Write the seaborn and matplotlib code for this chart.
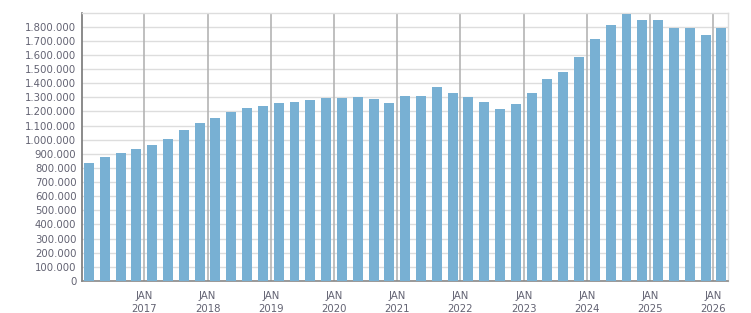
import matplotlib
matplotlib.use("Agg")
import matplotlib.pyplot as plt
import seaborn as sns
import pandas as pd
from matplotlib.ticker import FuncFormatter, FixedLocator

quarters = [f"{y} Q{q}" for y in range(2016, 2026) for q in range(1, 5)] + ["2026 Q1"]
values = [835000, 880000, 906000, 934000, 962000, 1005000, 1069000, 1118000,
          1154000, 1196000, 1224000, 1238000, 1260000, 1267000, 1281000, 1295000,
          1295000, 1302000, 1288000, 1260000, 1309000, 1309000, 1373000, 1330000,
          1302000, 1267000, 1217000, 1253000, 1330000, 1430000, 1479000, 1585000,
          1713000, 1812000, 1890000, 1847000, 1847000, 1790000, 1790000, 1741000,
          1790000]
year_labels = ["JAN\n2017", "JAN\n2018", "JAN\n2019", "JAN\n2020", "JAN\n2021",
               "JAN\n2022", "JAN\n2023", "JAN\n2024", "JAN\n2025", "JAN\n2026"]

df = pd.DataFrame({"quarter": quarters, "value": values})

sns.set_style("white")
plt.rcParams["font.family"] = ["DejaVu Sans"]

fig = plt.figure(figsize=(7.51, 3.13), dpi=100)
ax = fig.add_axes([82/751, (313-281)/313, (728-82)/751, (281-13.3)/313])

sns.barplot(data=df, x="quarter", y="value", color="#78b0d3", saturation=1,
            width=0.63, ax=ax, zorder=3, edgecolor="none", linewidth=0)

ax.set_ylim(0, 1895000)
ax.set_xlim(-0.44, 40.42)

txt = "#626272"
ax.yaxis.set_major_locator(FixedLocator(list(range(0, 1800001, 100000))))
ax.yaxis.set_major_formatter(FuncFormatter(lambda v, p: f"{int(v):,}".replace(",", ".")))
ax.tick_params(axis="y", direction="out", length=3, width=1, color="#888888",
               labelsize=7.3, labelcolor=txt, pad=1)
ax.grid(axis="y", color="#dddddd", linewidth=1, zorder=0)

jan_pos = [3.5 + 4*i for i in range(10)]
minor_pos = [i + 0.5 for i in range(-1, 41)
             if (i + 0.5) not in jan_pos and -0.44 < i + 0.5 < 40.42]
ax.xaxis.set_major_locator(FixedLocator(jan_pos))
ax.set_xticklabels(year_labels)
ax.xaxis.set_minor_locator(FixedLocator(minor_pos))
ax.tick_params(axis="x", which="major", direction="out", length=4, width=1,
               color="#888888", labelsize=7.3, labelcolor=txt, pad=3)
ax.tick_params(axis="x", which="minor", direction="out", length=3, width=1,
               color="#888888")
for t in ax.get_xticklabels():
    t.set_linespacing(1.4)
for p in jan_pos:
    ax.axvline(p, color="#b4b4b4", linewidth=1.2, zorder=1)

ax.set_xlabel("")
ax.set_ylabel("")
for s in ["top", "right"]:
    ax.spines[s].set_color("#dddddd")
    ax.spines[s].set_linewidth(1)
ax.spines["left"].set_color("#777777")
ax.spines["left"].set_linewidth(1.2)
ax.spines["bottom"].set_color("#888888")
ax.spines["bottom"].set_linewidth(1.2)

fig.savefig("out.png", dpi=100)
